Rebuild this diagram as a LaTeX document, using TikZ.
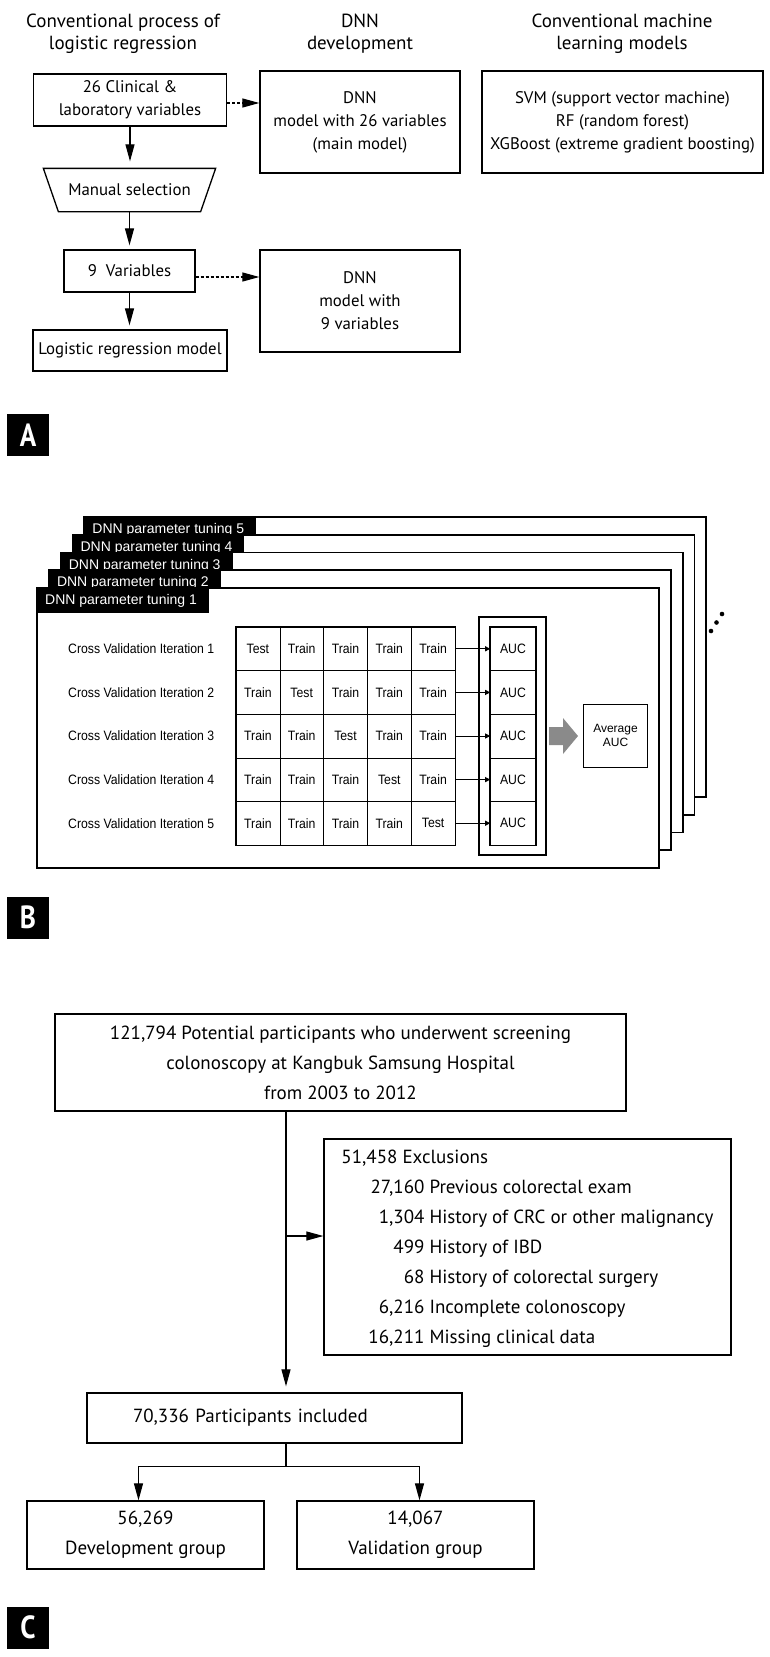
\documentclass[tikz,border=0pt]{standalone}
\usepackage{fontspec}
\setmainfont{PT Sans}
\newfontfamily\panfont{PT Sans}[FakeStretch=0.85]
\newfontfamily\arialfont{Liberation Sans}
\newfontfamily\arialnarrow{Liberation Sans}[FakeStretch=0.9]
\usetikzlibrary{arrows.meta,positioning}
\definecolor{arrowgrey}{HTML}{8A8A8A}

\begin{document}
\begin{tikzpicture}[x=1pt, y=-1pt]
\tikzset{
    hdr/.style={align=center, font=\fontsize{19}{22}\selectfont},
    abox/.style={draw=black, line width=1.3pt, align=center, inner sep=0pt, font=\fontsize{16.8}{23}\selectfont},
    cbox/.style={draw=black, line width=1.3pt, align=center, inner sep=0pt, font=\fontsize{19}{30}\selectfont},
    myarrow/.style={-{Triangle[length=17pt,width=9pt]}, line width=1.2pt},
    dasharrow/.style={myarrow, dash pattern=on 3pt off 2pt},
    panlabel/.style={fill=black, text=white, minimum size=42pt, inner sep=0pt, font=\panfont\bfseries\fontsize{32}{32}\selectfont},
    cell/.style={draw=black, line width=0.6pt, minimum width=43.8pt, minimum height=43.6pt, inner sep=0pt, font=\arialnarrow\fontsize{13.6}{13.6}\selectfont},
    iterlabel/.style={anchor=west, inner sep=0pt, font=\arialnarrow\fontsize{13.6}{13.6}\selectfont},
    tablabel/.style={anchor=west, text=white, inner sep=0pt, font=\arialfont\fontsize{14}{14}\selectfont},
    smallarrow/.style={-{Triangle[length=5pt,width=5pt]}, line width=1pt}
}
\useasboundingbox (0,0) rectangle (769,1657);

% panel A
\node[hdr] (hlogit) at (123,34) {Conventional process of\\logistic regression};
\node[hdr] (hdnn) at (360,34) {DNN\\development};
\node[hdr] (hml) at (622,34) {Conventional machine\\learning models};

\node[abox, minimum width=193pt, minimum height=52pt] (clin) at (130,100) {26 Clinical \&\\laboratory variables};
\node[abox, minimum width=200pt, minimum height=102pt] (dnnall) at (360,122) {DNN\\model with 26 variables\\(main model)};
\node[abox, minimum width=281pt, minimum height=102pt] (ml) at (622.5,122) {SVM (support vector machine)\\RF (random forest)\\XGBoost (extreme gradient boosting)};
\node[abox, draw=none, minimum width=171pt, minimum height=42pt] (manual) at (129.5,190) {Manual selection};
\draw[line width=1.3pt] (manual.north west) -- (manual.north east) -- ([xshift=-15pt]manual.south east) -- ([xshift=15pt]manual.south west) -- cycle;
\node[abox, minimum width=131pt, minimum height=42pt] (nine) at (129.5,271) {9\ \ Variables};
\node[abox, minimum width=200pt, minimum height=102pt] (dnnnine) at (360,301) {DNN\\model with\\9 variables};
\node[abox, minimum width=194pt, minimum height=41pt] (logit) at (130,350.5) {Logistic regression model};

\draw[myarrow, shorten >=7pt] (clin.south) -- (clin.south |- manual.north);
\draw[myarrow, shorten >=4pt] (manual.south) -- (manual.south |- nine.north);
\draw[myarrow, shorten >=4pt] (nine.south) -- (nine.south |- logit.north);
\draw[dasharrow] ([yshift=-3pt]clin.east) -- ([yshift=-3pt]clin.east -| dnnall.west);
\draw[dasharrow] ([yshift=-6pt]nine.east) -- ([yshift=-6pt]nine.east -| dnnnine.west);

\node[panlabel] (labA) at (28,435) {A};

% panel B: tuning sheets, back to front
\foreach \k in {5,4,3,2,1}{
  \pgfmathsetmacro{\fx}{37+11.8*(\k-1)}
  \pgfmathsetmacro{\fy}{588-17.75*(\k-1)}
  \fill[white] (\fx,\fy) rectangle ++(622,280);
  \draw[line width=1.8pt] (\fx,\fy) rectangle ++(622,280);
  \fill[black] (\fx,\fy) rectangle ++(172,25);
  \node[tablabel] (tab\k) at (\fx+8,\fy+13) {DNN parameter tuning \k};
}
\foreach \d in {0,1,2}
  \fill (711+5.5*\d,631-8.5*\d) circle (2.3);

\foreach \r in {1,...,5}{
  \node[iterlabel] (iter\r) at (68,627+43.6*\r-21.8) {Cross Validation Iteration \r};
  \foreach \c in {1,...,5}
    \node[cell] (cell\r\c) at (236+43.8*\c-21.9,627+43.6*\r-21.8) {\ifnum\c=\r Test\else Train\fi};
  \node[cell, minimum width=45pt] (auc\r) at (513,627+43.6*\r-21.8) {AUC};
  \draw[smallarrow] (cell\r5.east) -- (auc\r.west);
}
\draw[line width=1.5pt] (cell11.north west) rectangle (cell55.south east);
\draw[line width=1.5pt] (auc1.north west) rectangle (auc5.south east);
\draw[line width=1.8pt] ([xshift=-11pt,yshift=10pt]auc1.north west) rectangle ([xshift=10pt,yshift=-10pt]auc5.south east);

\node[draw, line width=0.8pt, minimum width=64pt, minimum height=63pt, align=center, font=\arialfont\fontsize{12}{14}\selectfont] (avg) at (615.5,735.5) {Average\\AUC};
% grey block arrow into the average
\fill[arrowgrey] (549,727) -- (563,727) -- (563,718) -- (578,736) -- (563,754) -- (563,745) -- (549,745) -- cycle;

\node[panlabel] (labB) at (28,917.5) {B};

% panel C
\node[cbox, minimum width=571pt, minimum height=97pt] (pot) at (340.5,1062.5) {121,794 Potential participants who underwent screening\\colonoscopy at Kangbuk Samsung Hospital\\from 2003 to 2012};
\node[cbox, minimum width=407pt, minimum height=216pt] (excl) at (527.5,1247) {\begin{tabular}{@{}l@{}r@{\ }l@{}}
\multicolumn{3}{@{}l@{}}{51,458 Exclusions}\\
\hspace*{27pt} & 27,160 & Previous colorectal exam\\
 & 1,304 & History of CRC or other malignancy\\
 & 499 & History of IBD\\
 & 68 & History of colorectal surgery\\
 & 6,216 & Incomplete colonoscopy\\
 & 16,211 & Missing clinical data
\end{tabular}};
\node[cbox, text width=283pt, inner xsep=46pt, align=left, minimum height=50pt] (incl) at (274.5,1418) {70,336 Participants included};
\node[cbox, minimum width=237pt, minimum height=68pt] (dev) at (145.5,1535) {56,269\\Development group};
\node[cbox, minimum width=237pt, minimum height=68pt] (val) at (415.5,1535) {14,067\\Validation group};
\coordinate (trunk) at (286,1111);

\draw[myarrow, shorten >=6pt] (trunk |- pot.south) -- (trunk |- incl.north);
\draw[myarrow] (trunk |- excl.west) ++(0,-11) -- ([yshift=11pt]excl.west);
\draw[myarrow] (trunk |- incl.south) -- ++(0,23) -| ([xshift=-7pt]dev.north);
\draw[myarrow] (trunk |- incl.south) -- ++(0,23) -| ([xshift=4pt]val.north);

\node[panlabel] (labC) at (28,1627.5) {C};
\end{tikzpicture}
\end{document}
